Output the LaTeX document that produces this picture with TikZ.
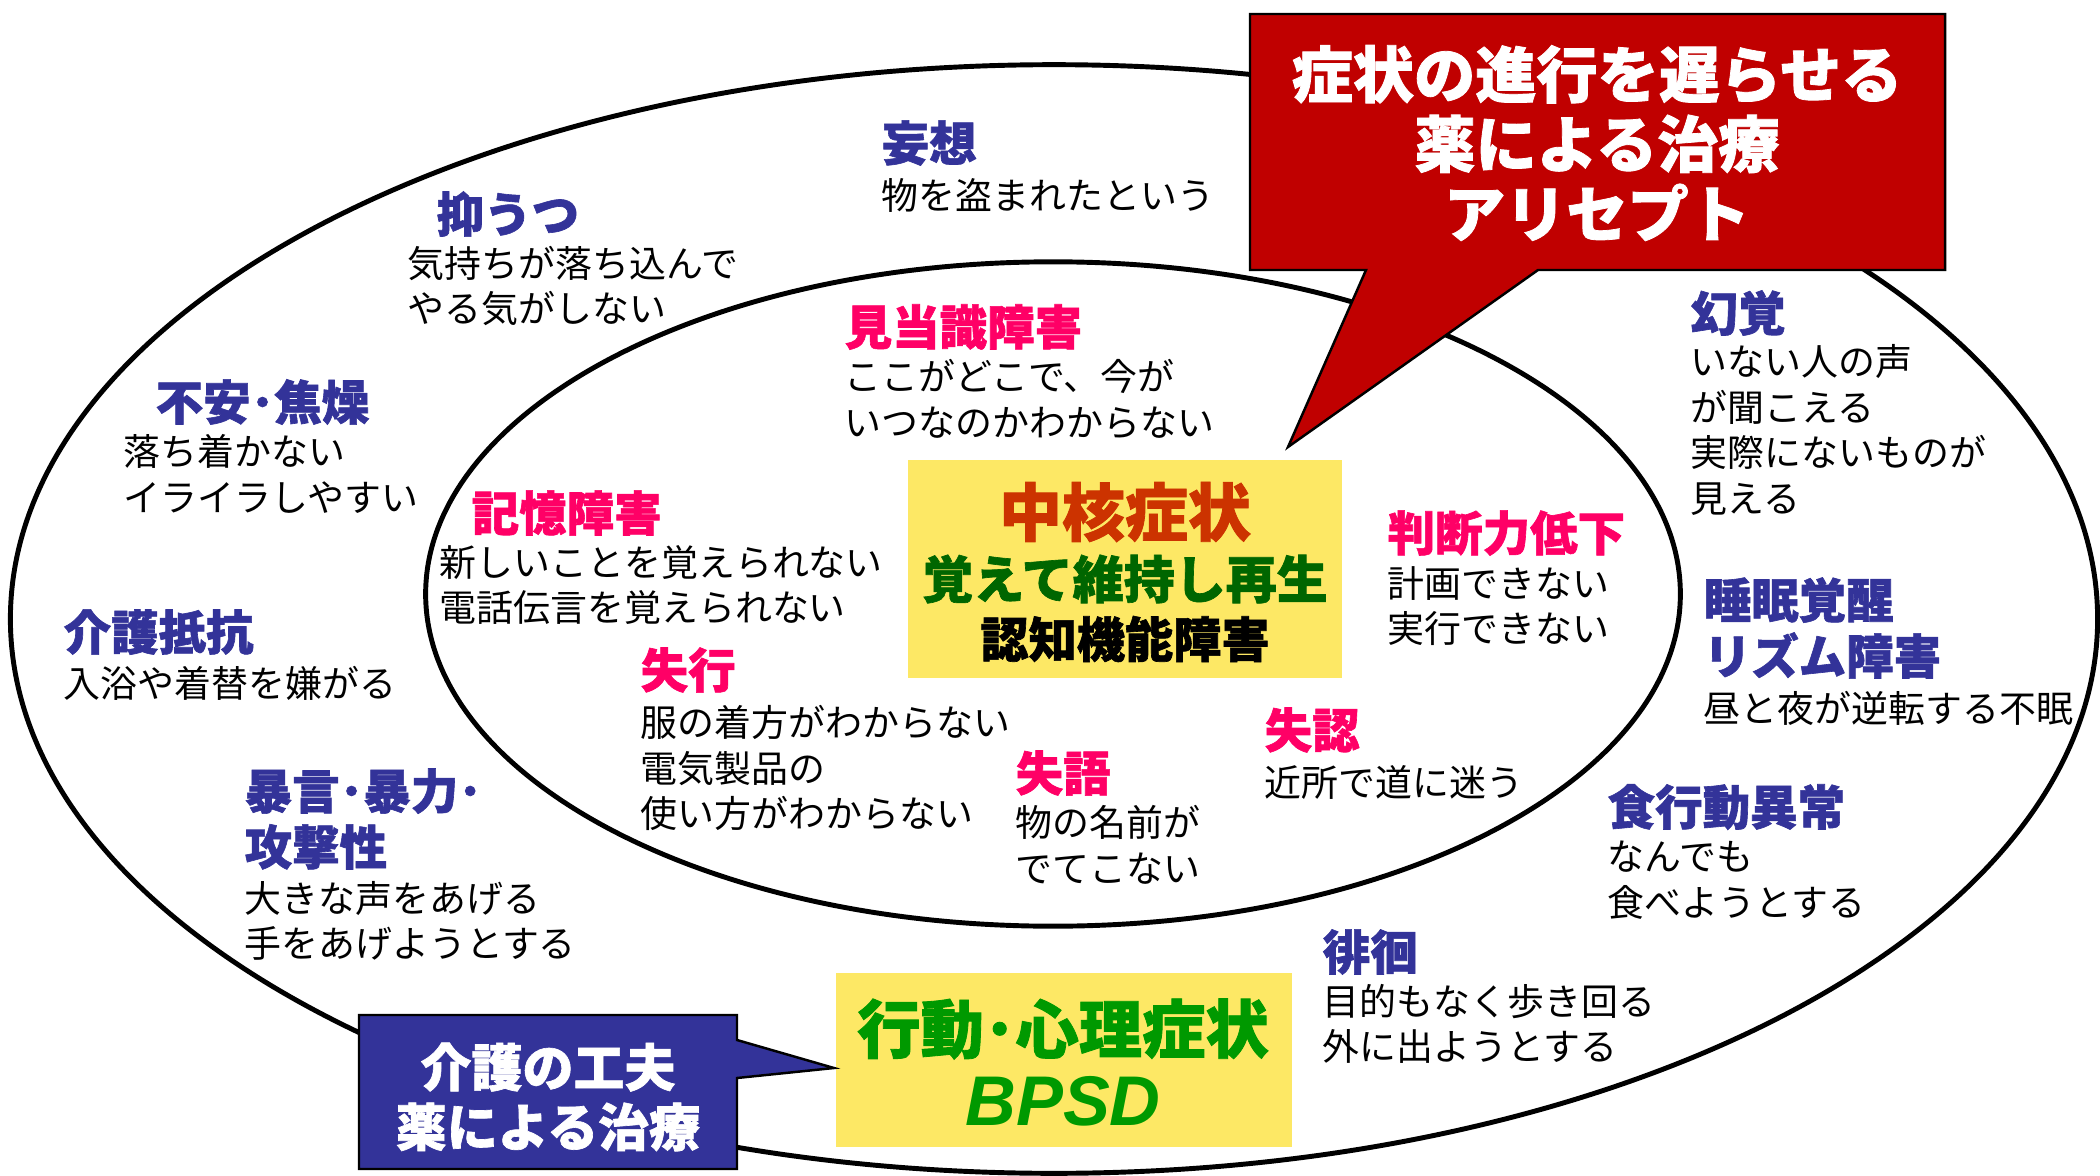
\documentclass[tikz,border=0pt]{standalone}
\usepackage{fontspec}
\setmainfont{Noto Sans CJK JP}
\newfontfamily\heavyjp{Noto Sans CJK JP}[BoldFeatures={FakeBold=1.3}]
\newfontfamily\latinfont{Liberation Sans}

\definecolor{calloutred}{HTML}{C00000}
\definecolor{calloutblue}{HTML}{333399}
\definecolor{headblue}{HTML}{333399}
\definecolor{headpink}{HTML}{FF0066}
\definecolor{boxyellow}{HTML}{FDE865}
\definecolor{coreorange}{HTML}{CC3300}
\definecolor{coregreen}{HTML}{006600}
\definecolor{bpsdgreen}{HTML}{009900}

\newcommand{\bodyfont}{\fontsize{10.5pt}{12.95pt}\selectfont}
\newcommand{\headfont}{\heavyjp\bfseries\fontsize{13.5pt}{15.9pt}\selectfont}

\begin{document}
\begin{tikzpicture}[x=0.01cm,y=-0.01cm,
      ring/.style={line width=1.4pt},
      callout/.style={draw=black,line width=0.7pt},
      headline/.style={anchor=west,inner sep=0pt,align=left,font=\headfont},
      bluehead/.style={headline,text=headblue},
      pinkhead/.style={headline,text=headpink},
      bodytext/.style={anchor=west,inner sep=0pt,align=left,font=\bodyfont},
      yellowbox/.style={fill=boxyellow,inner sep=0pt}]
    \useasboundingbox (0,0) rectangle (2100,1176);

    % the two rings
    \draw[ring] (1054,619) ellipse [x radius=10.43cm, y radius=5.54cm];
    \draw[ring] (1053,594) ellipse [x radius=6.27cm, y radius=3.32cm];

    % outer ring: BPSD
    \node[bluehead] (mousouHead) at (881,143) {妄想};
    \node[bodytext] (mousouText) at (881,195) {物を盗まれたという};
    \node[bluehead] (yokuutsuHead) at (436,214) {抑うつ};
    \node[bodytext] (yokuutsuText) at (407,286) {気持ちが落ち込んで\\やる気がしない};
    \node[bluehead] (fuanHead) at (155,402) {不安･焦燥};
    \node[bodytext] (fuanText) at (123,474) {落ち着かない\\イライラしやすい};
    \node[bluehead] (teikouHead) at (63,632) {介護抵抗};
    \node[bodytext] (teikouText) at (63,683) {入浴や着替を嫌がる};
    \node[bluehead] (bougenHead) at (244,819) {暴言･暴力･\\攻撃性};
    \node[bodytext] (bougenText) at (244,921) {大きな声をあげる\\手をあげようとする};
    \node[bluehead] (genkakuHead) at (1690,313) {幻覚};
    \node[bodytext] (genkakuText) at (1690,430) {いない人の声\\が聞こえる\\実際にないものが\\見える};
    \node[bluehead] (suiminHead) at (1703,628) {睡眠覚醒\\リズム障害};
    \node[bodytext] (suiminText) at (1703,708) {昼と夜が逆転する不眠};
    \node[bluehead] (shokuHead) at (1607,807) {食行動異常};
    \node[bodytext] (shokuText) at (1607,880) {なんでも\\食べようとする};
    \node[bluehead] (haikaiHead) at (1322,952) {徘徊};
    \node[bodytext] (haikaiText) at (1322,1024) {目的もなく歩き回る\\外に出ようとする};

    % inner ring: core symptoms
    \node[pinkhead] (kentouHead) at (844,327) {見当識障害};
    \node[bodytext] (kentouText) at (844,399) {ここがどこで、今が\\いつなのかわからない};
    \node[pinkhead] (kiokuHead) at (471,513) {記憶障害};
    \node[bodytext] (kiokuText) at (439,585) {新しいことを覚えられない\\電話伝言を覚えられない};
    \node[pinkhead] (handanHead) at (1387,533) {判断力低下};
    \node[bodytext] (handanText) at (1387,606) {計画できない\\実行できない};
    \node[pinkhead] (shikkouHead) at (640,670) {失行};
    \node[bodytext] (shikkouText) at (640,768) {服の着方がわからない\\電気製品の\\使い方がわからない};
    \node[pinkhead] (shitsugoHead) at (1015,773) {失語};
    \node[bodytext] (shitsugoText) at (1015,845) {物の名前が\\でてこない};
    \node[pinkhead] (shitsuninHead) at (1264,730) {失認};
    \node[bodytext] (shitsuninText) at (1264,782) {近所で道に迷う};

    % centre box
    \node[yellowbox,minimum width=4.34cm,minimum height=2.17cm] (core) at (1125,569) {};
    \node[text=coreorange,font=\heavyjp\bfseries\fontsize{17.9pt}{20pt}\selectfont] (coreTitle) at (1125,512) {中核症状};
    \node[text=coregreen,font=\heavyjp\bfseries\fontsize{14.5pt}{16pt}\selectfont] (coreSub) at (1125,579) {覚えて維持し再生};
    \node[font=\heavyjp\bfseries\fontsize{13.7pt}{15pt}\selectfont] (coreName) at (1125,639) {認知機能障害};

    % bottom box
    \node[yellowbox,minimum width=4.55cm,minimum height=1.73cm] (bpsd) at (1064,1060) {};
    \node[text=bpsdgreen,font=\heavyjp\bfseries\fontsize{18pt}{19pt}\selectfont] (bpsdTitle) at (1063,1029) {行動･心理症状};
    \node[text=bpsdgreen,font=\latinfont\bfseries\itshape\fontsize{20pt}{21pt}\selectfont] (bpsdName) at (1063,1101) {BPSD};

    % red callout
    \coordinate (redTip) at (1288,447);
    \draw[callout,fill=calloutred] (1250,14) -- (1945,14) -- (1945,270) -- (1538,270)
        -- (redTip) -- (1366,270) -- (1250,270) -- cycle;
    \node[text=white,font=\heavyjp\bfseries\fontsize{17.4pt}{19pt}\selectfont,align=center] (drugText) at (1597,143)
        {症状の進行を遅らせる\\[0.8pt]薬による治療\\[0.8pt]アリセプト};

    % blue callout
    \coordinate (blueTip) at (834,1068);
    \draw[callout,fill=calloutblue] (359,1015) -- (737,1015) -- (737,1040) -- (blueTip)
        -- (737,1078) -- (737,1169) -- (359,1169) -- cycle;
    \node[text=white,font=\heavyjp\bfseries\fontsize{14.5pt}{17pt}\selectfont,align=center] (careText) at (548,1097)
        {介護の工夫\\薬による治療};
\end{tikzpicture}
\end{document}
